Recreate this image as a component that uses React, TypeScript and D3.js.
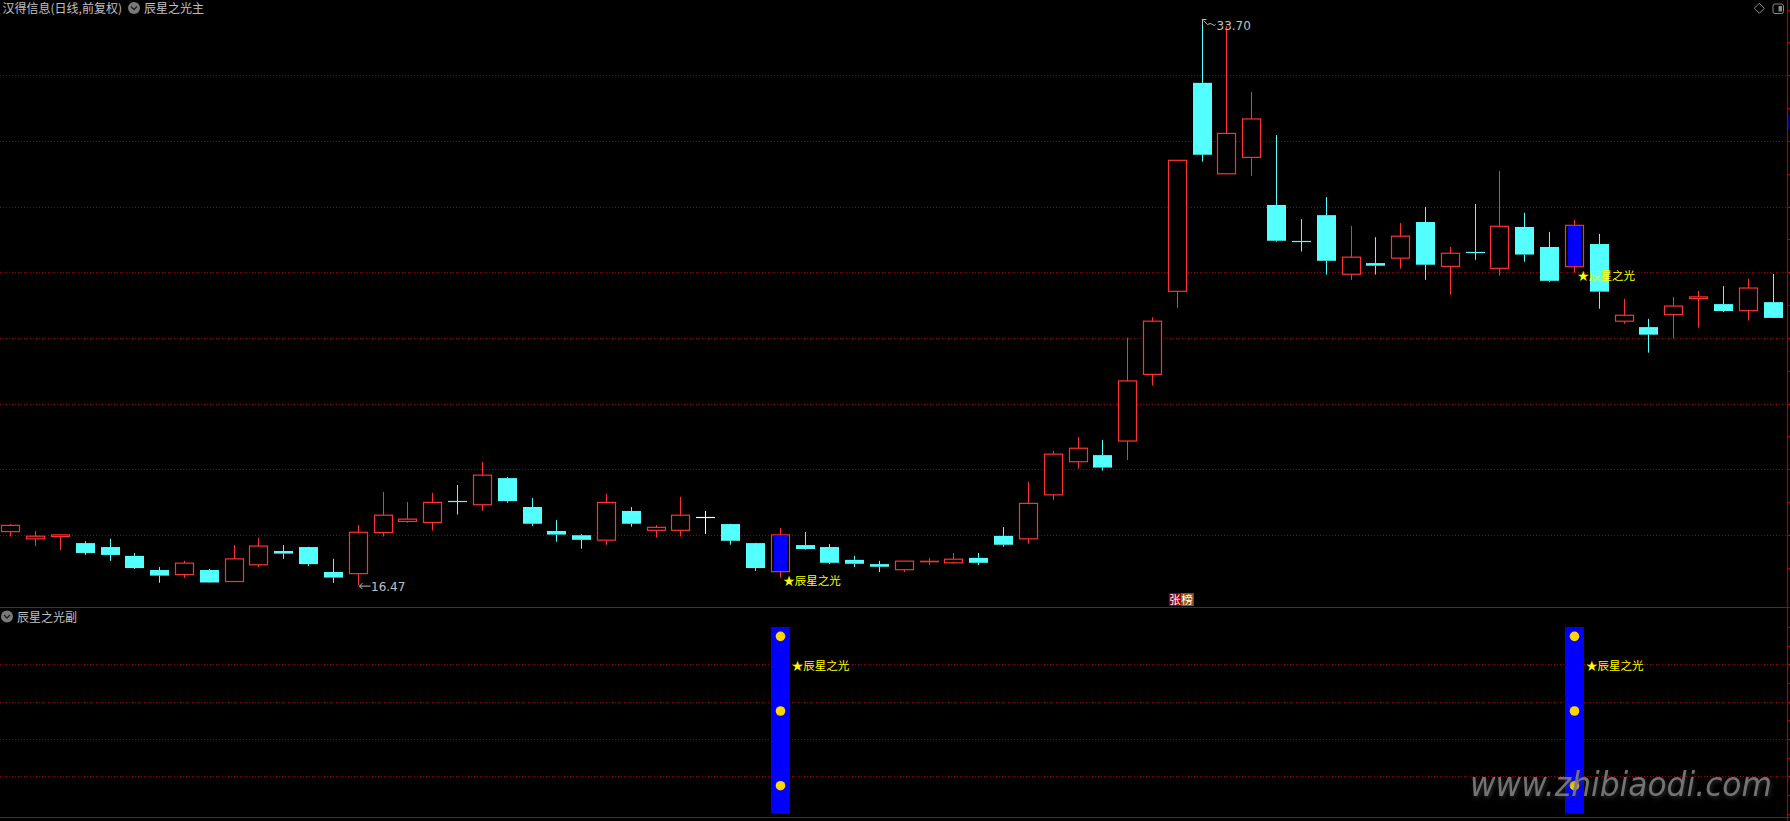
import React from "react";
import * as d3 from "d3";

// ---- data ----
const opens = [18.10,17.88,17.95,17.75,17.63,17.36,16.93,16.79,16.93,16.58,17.09,17.51,17.63,16.87,16.82,18.07,18.41,18.38,19.03,18.92,19.73,18.85,18.12,17.99,17.84,18.73,18.14,18.14,18.54,18.33,17.75,16.88,17.69,17.63,17.24,17.11,16.94,17.19,17.15,17.30,17.97,17.88,19.22,20.23,20.43,20.86,22.89,25.42,31.77,29.00,29.50,28.05,26.96,27.74,25.94,26.28,26.43,27.53,26.18,26.62,26.12,27.38,26.77,26.17,26.86,24.51,24.33,24.71,25.20,25.03,24.83,25.09];
const highs = [18.33,18.12,18.02,17.81,17.88,17.45,17.02,17.21,16.96,17.69,17.91,17.69,17.64,17.27,18.30,19.31,19.00,19.28,19.52,20.22,19.76,19.12,18.45,18.02,19.25,18.85,18.30,19.16,18.73,18.34,17.76,18.21,18.09,17.72,17.36,17.21,17.20,17.30,17.45,17.45,18.24,19.61,20.56,20.98,20.89,24.01,24.63,29.41,33.70,33.51,31.49,30.18,27.62,28.29,27.41,27.07,27.50,27.99,26.77,28.08,29.09,27.81,27.23,27.59,27.17,25.19,24.58,25.25,25.43,25.58,25.80,25.95];
const lows = [17.95,17.66,17.54,17.39,17.21,16.96,16.54,16.69,16.54,16.57,17.02,17.27,17.05,16.54,16.47,17.95,18.37,18.13,18.62,18.74,18.98,18.27,17.79,17.58,17.70,18.25,17.92,17.95,18.03,17.70,16.90,16.70,17.55,17.11,17.02,16.87,16.87,17.08,17.12,17.08,17.64,17.73,19.07,20.02,19.96,20.28,22.55,24.92,29.37,28.99,28.94,26.93,26.63,25.93,25.77,25.93,26.11,25.77,25.32,26.38,25.90,26.32,25.71,25.99,24.89,24.43,23.55,23.98,24.31,24.79,24.53,24.60];
const closes = [18.29,17.96,18.00,17.45,17.39,16.99,16.76,17.14,16.55,17.27,17.66,17.43,17.11,16.70,18.08,18.60,18.48,18.99,19.01,19.82,19.03,18.34,18.01,17.85,18.99,18.34,18.23,18.60,18.54,17.82,16.99,18.00,17.57,17.15,17.12,17.03,17.20,17.20,17.26,17.15,17.70,18.96,20.46,20.64,20.05,22.69,24.51,29.41,29.58,30.23,30.67,26.96,26.94,26.35,26.46,26.20,27.10,26.23,26.58,26.60,27.40,26.54,25.74,27.43,25.41,24.69,24.10,24.97,25.25,24.82,25.52,24.61];

const signalIdx = [31, 63];
const priceGrid = [18, 20, 22, 24, 26, 28, 30, 32];
const priceTicks = d3.range(17, 35, 1);
const subGrid = [20, 40, 60, 80];
const subTicks = d3.range(0, 101, 10);
const subBarTop = 100;
const subDots = [95, 55, 15];
const subLabelLevel = 80;
const highIdx = 48;
const lowIdx = 14;
const boardIdx = 47;

const mainTitle = "汉得信息(日线,前复权)";
const mainIndicator = "辰星之光主";
const subIndicator = "辰星之光副";
const signalText = "★辰星之光";
const boardChars = ["张", "榜"];
const watermark = "www.zhibiaodi.com";

// ---- style ----
const W = 1790;
const H = 821;
const RED = "#ff3232";
const CYAN = "#54ffff";
const BLUE = "#0000ff";
const GRID = "#9a0000";
const SEP = "#b00000";
const TXT = "#c0c0c0";
const YEL = "#ffff00";
const FONT = "'Noto Sans CJK SC', 'DejaVu Sans', sans-serif";

export default function App() {
  const x = d3.scaleLinear().domain([0, 71]).range([10.3, 1772.5]);
  const y = d3.scaleLinear().domain([18, 32]).range([534.9, 75.3]);
  const ys = d3.scaleLinear().domain([0, 100]).range([813.7, 627]);
  const mainBottom = 607;
  const subBottom = 817;
  const rightEdge = 1787.5;
  const px = (v: number) => Math.round(v) + 0.5;

  const candles = opens.map((o, i) => {
    const c = closes[i];
    const hi = highs[i];
    const lo = lows[i];
    const cx = px(x(i));
    const yTop = y(Math.max(o, c));
    const yBot = y(Math.min(o, c));
    const up = c > o;
    const flat = c === o;
    const color = flat ? "#ffffff" : up ? RED : CYAN;
    const sig = signalIdx.includes(i);
    const bodyH = yBot - yTop;
    const els: React.ReactNode[] = [];
    els.push(<line key="w1" x1={cx} x2={cx} y1={y(hi)} y2={yTop} stroke={color} strokeWidth={1} />);
    els.push(<line key="w2" x1={cx} x2={cx} y1={yBot} y2={y(lo)} stroke={color} strokeWidth={1} />);
    if (bodyH < 1.2) {
      els.push(<line key="b" x1={cx - 9.5} x2={cx + 9.5} y1={px(yTop)} y2={px(yTop)} stroke={color} strokeWidth={up ? 1.6 : 1.2} />);
    } else if (up) {
      els.push(<rect key="b" x={cx - 9} y={yTop} width={18} height={bodyH} fill="#000" stroke={RED} strokeWidth={1.2} />);
      if (sig) {
        els.push(<rect key="bf" x={cx - 6.5} y={yTop + 0.6} width={13} height={bodyH - 1.2} fill={BLUE} />);
      }
    } else {
      els.push(<rect key="b" x={cx - 9.5} y={yTop} width={19} height={bodyH} fill={CYAN} />);
    }
    return <g key={i}>{els}</g>;
  });

  const hx = px(x(highIdx));
  const hy = y(highs[highIdx]);
  const lx = px(x(lowIdx));
  const ly = y(lows[lowIdx]);

  return (
    <svg
      width={W}
      height={H}
      style={{ position: "absolute", left: 0, top: 0, background: "#000", display: "block" }}
      fontFamily={FONT}
    >
      <rect x={0} y={0} width={W} height={H} fill="#000" />

      {priceGrid.map((p) => (
        <line key={p} x1={0} x2={rightEdge} y1={px(y(p))} y2={px(y(p))} stroke={GRID} strokeWidth={1} strokeDasharray="1,2" />
      ))}
      {subGrid.map((v) => (
        <line key={v} x1={0} x2={rightEdge} y1={px(ys(v))} y2={px(ys(v))} stroke={GRID} strokeWidth={1} strokeDasharray="1,2" />
      ))}

      <line x1={0} x2={W} y1={mainBottom + 0.5} y2={mainBottom + 0.5} stroke={SEP} strokeWidth={1.2} />
      <line x1={0} x2={W} y1={subBottom + 0.5} y2={subBottom + 0.5} stroke={SEP} strokeWidth={1.2} />
      <line x1={rightEdge} x2={rightEdge} y1={0} y2={H} stroke={SEP} strokeWidth={1.2} />
      {priceTicks.map((p) => (
        <line key={p} x1={rightEdge} x2={W} y1={px(y(p))} y2={px(y(p))} stroke={SEP} strokeWidth={1} />
      ))}
      {subTicks.map((v) => (
        <line key={v} x1={rightEdge} x2={W} y1={px(ys(v))} y2={px(ys(v))} stroke={SEP} strokeWidth={1} />
      ))}
      <rect x={1788} y={115} width={3} height={14} fill="#000080" />

      <g>{candles}</g>

      <g stroke={TXT} strokeWidth={1} fill="none">
        <path d={`M${hx},${hy} L${hx},${hy + 5} M${hx},${hy} L${hx + 4},${hy}`} />
        <path d={`M${hx + 1},${hy + 1} L${hx + 5},${hy + 5} Q${hx + 8},${hy + 3} ${hx + 10},${hy + 5} T${hx + 13},${hy + 5}`} />
        <path d={`M${lx + 1},${ly + 1} L${lx + 12},${ly + 1} M${lx + 1},${ly + 1} L${lx + 4},${ly - 2} M${lx + 1},${ly + 1} L${lx + 4},${ly + 4}`} />
      </g>
      <text x={hx + 14} y={hy + 10.5} fill={TXT} fontSize={12} fontFamily="'DejaVu Sans', sans-serif">
        {highs[highIdx].toFixed(2)}
      </text>
      <text x={lx + 12.5} y={ly + 5.5} fill={TXT} fontSize={12} fontFamily="'DejaVu Sans', sans-serif">
        {lows[lowIdx].toFixed(2)}
      </text>

      {signalIdx.map((i) => (
        <text key={i} x={x(i) + 3.5} y={y(lows[i]) + 7} fill={YEL} fontSize={11.5}>
          {signalText}
        </text>
      ))}

      <g>
        <rect x={x(boardIdx) - 8} y={593} width={12} height={13} fill="#8a0000" />
        <rect x={x(boardIdx) + 4} y={593} width={13} height={13} fill="#8a5214" />
        <text x={x(boardIdx) - 7.5} y={604} fill="#ffffff" fontSize={11.5}>{boardChars[0]}</text>
        <text x={x(boardIdx) + 4.5} y={604} fill="#ffffff" fontSize={11.5}>{boardChars[1]}</text>
      </g>

      {signalIdx.map((i) => (
        <g key={i}>
          <rect x={px(x(i)) - 9.5} y={ys(subBarTop)} width={19} height={ys(0) - ys(subBarTop)} fill={BLUE} />
          {subDots.map((v) => (
            <circle key={v} cx={px(x(i))} cy={ys(v)} r={4.8} fill="#ffd700" />
          ))}
          <text x={x(i) + 12} y={ys(subLabelLevel) + 6} fill={YEL} fontSize={11.5}>
            {signalText}
          </text>
        </g>
      ))}

      <text x={2.5} y={12.5} fill={TXT} fontSize={12}>{mainTitle}</text>
      <circle cx={134} cy={8} r={6} fill="#7a7a7a" />
      <path d="M131,6.5 L134,9.5 L137,6.5" stroke="#1a1a1a" strokeWidth={1.3} fill="none" />
      <text x={144} y={12.5} fill={TXT} fontSize={12}>{mainIndicator}</text>

      <circle cx={7} cy={616.5} r={6} fill="#7a7a7a" />
      <path d="M4,615 L7,618 L10,615" stroke="#1a1a1a" strokeWidth={1.3} fill="none" />
      <text x={17} y={621.5} fill={TXT} fontSize={12}>{subIndicator}</text>

      <path d="M1759.3,3.3 L1764.3,8.3 L1759.3,13.3 L1754.3,8.3 Z" stroke="#8a8a8a" strokeWidth={1} fill="none" />
      <rect x={1773} y={4} width={10.5} height={9.5} rx={2} stroke="#8a8a8a" strokeWidth={1} fill="none" />
      <rect x={1778.5} y={6} width={3.5} height={5.5} fill="#8a8a8a" />

      <text
        x={1470}
        y={796}
        fill="#7c7c7c"
        fillOpacity={0.92}
        fontSize={34}
        fontStyle="italic"
        fontFamily="'DejaVu Sans', sans-serif"
        textLength={302}
        lengthAdjust="spacingAndGlyphs"
        style={{ filter: "drop-shadow(1px 2px 2px rgba(60,60,60,0.8))" }}
      >
        {watermark}
      </text>
    </svg>
  );
}
